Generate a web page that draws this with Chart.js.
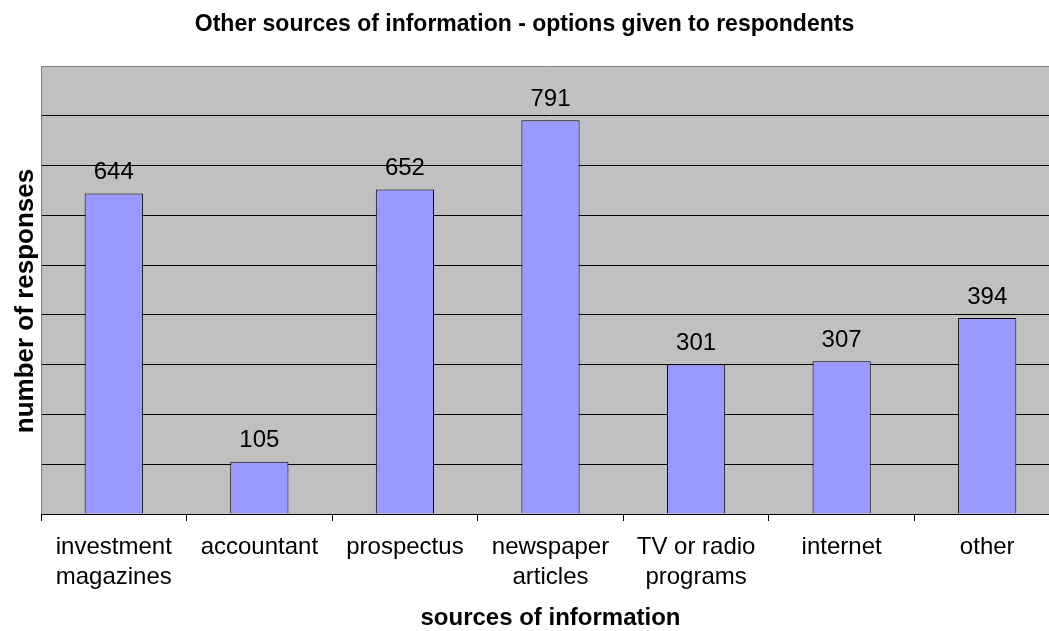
<!DOCTYPE html>
<html>
<head>
<meta charset="utf-8">
<script src="https://cdn.jsdelivr.net/npm/chart.js@4/dist/chart.umd.min.js"></script>
<style>
  html, body { margin: 0; padding: 0; background: #fff; overflow: hidden; }
  #wrap { width: 1049px; height: 631px; overflow: hidden; }
</style>
</head>
<body>
<div id="wrap"><canvas id="chart" width="1060" height="631"></canvas></div>
<script>
// data
const categories = [
    ['investment', 'magazines'],
    'accountant',
    'prospectus',
    ['newspaper', 'articles'],
    ['TV or radio', 'programs'],
    'internet',
    'other'
];
const responses = [644, 105, 652, 791, 301, 307, 394];

const chartTitle = 'Other sources of information - options given to respondents';
const yTitle = 'number of responses';
const xTitle = 'sources of information';

const fontFamily = '"Liberation Sans", Arial, sans-serif';

// value labels above bars
const barLabels = {
    id: 'barLabels',
    afterDatasetsDraw(chart) {
        const ctx = chart.ctx;
        const meta = chart.getDatasetMeta(0);
        ctx.save();
        ctx.font = '24px ' + fontFamily;
        ctx.fillStyle = '#000';
        ctx.textAlign = 'center';
        ctx.textBaseline = 'middle';
        meta.data.forEach((bar, i) => {
            ctx.fillText(String(responses[i]), bar.x, bar.y - 21);
        });
        ctx.restore();
    }
};

// the original image is cropped on the right, so the plot runs past the
// visible edge; main title sits on the visible page centre, y title a bit low
const titles = {
    id: 'titles',
    afterDraw(chart) {
        const ctx = chart.ctx;
        ctx.save();
        ctx.fillStyle = '#000';
        ctx.textAlign = 'center';
        ctx.textBaseline = 'alphabetic';
        ctx.font = 'bold 23px ' + fontFamily;
        ctx.fillText(chartTitle, 1049 / 2, 31);
        ctx.translate(33, 301);
        ctx.rotate(-Math.PI / 2);
        ctx.font = 'bold 26px ' + fontFamily;
        ctx.fillText(yTitle, 0, 0);
        ctx.restore();
    }
};

// gray plot background and frame
const plotFrame = {
    id: 'plotFrame',
    beforeDraw(chart) {
        const a = chart.chartArea;
        const ctx = chart.ctx;
        ctx.save();
        ctx.fillStyle = '#fff';
        ctx.fillRect(0, 0, chart.width, chart.height);
        ctx.fillStyle = '#c0c0c0';
        ctx.fillRect(a.left, a.top, a.right - a.left, a.bottom - a.top);
        ctx.restore();
    },
    afterDraw(chart) {
        const a = chart.chartArea;
        const ctx = chart.ctx;
        ctx.save();
        ctx.strokeStyle = '#808080';
        ctx.lineWidth = 1;
        ctx.beginPath();
        ctx.moveTo(a.left + 0.5, a.bottom);
        ctx.lineTo(a.left + 0.5, a.top + 0.5);
        ctx.lineTo(a.right - 0.5, a.top + 0.5);
        ctx.lineTo(a.right - 0.5, a.bottom);
        ctx.stroke();
        ctx.restore();
    }
};

new Chart(document.getElementById('chart'), {
    type: 'bar',
    data: {
        labels: categories,
        datasets: [{
            data: responses,
            backgroundColor: '#9999ff',
            borderColor: '#000',
            borderWidth: 1,
            barPercentage: 0.4,
            categoryPercentage: 1
        }]
    },
    options: {
        responsive: false,
        animation: false,
        layout: { padding: { left: 0, right: 0, top: 66, bottom: 0 } },
        plugins: {
            legend: { display: false },
            tooltip: { enabled: false },
            title: { display: false }
        },
        scales: {
            x: {
                afterFit(scale) { scale.height = 117; },
                grid: {
                    display: true,
                    drawOnChartArea: false,
                    drawTicks: true,
                    tickLength: 7,
                    color: '#000'
                },
                border: { display: true, color: '#000', width: 1 },
                ticks: {
                    color: '#000',
                    padding: 11,
                    maxRotation: 0,
                    autoSkip: false,
                    font: { family: fontFamily, size: 24, lineHeight: 1.25 }
                },
                title: {
                    display: true,
                    text: xTitle,
                    color: '#000',
                    font: { family: fontFamily, size: 24, weight: 'bold', lineHeight: 1.0 },
                    padding: { top: 0, bottom: 1 }
                }
            },
            y: {
                min: 0,
                max: 900,
                afterFit(scale) { scale.width = 41; },
                ticks: { display: false, stepSize: 100 },
                grid: {
                    drawTicks: false,
                    color: ctx => (ctx.tick.value === 0 || ctx.tick.value === 900) ? 'rgba(0,0,0,0)' : '#000',
                    lineWidth: 1
                },
                border: { display: false },
                title: { display: false }
            }
        }
    },
    plugins: [plotFrame, barLabels, titles]
});
</script>
</body>
</html>
